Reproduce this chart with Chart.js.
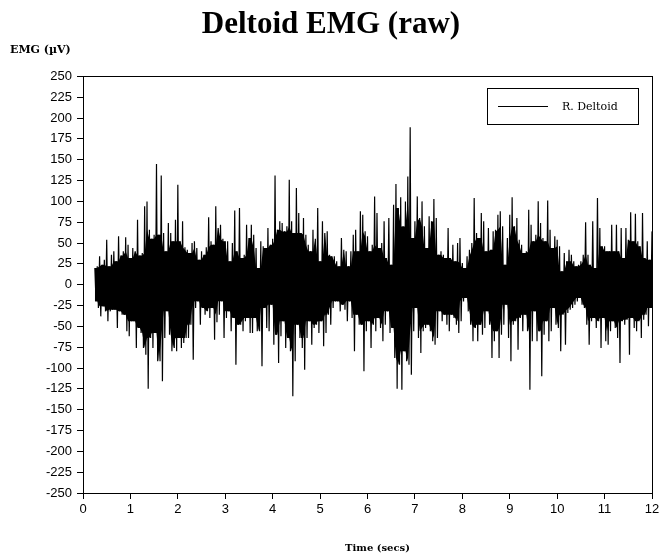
<!DOCTYPE html>
<html lang="en">
<head>
  <meta charset="UTF-8" />
  <title>Deltoid EMG (raw)</title>
  <script src="https://cdn.jsdelivr.net/npm/chart.js"></script>
  <style>
    body { margin: 0; background: #fff; }
    .chart-box { width: 671px; height: 554px; }
  </style>
</head>
<body>
  <div class="chart-box"><canvas id="emgChart"></canvas></div>

  <script>
    const START_TIME = 0.25;
    const SAMPLE_STEP = 0.05;
    const seriesLabel = 'R. Deltoid';
    const xAxisLabel = 'Time (secs)';

    const upperPeaks = [
      20, 22, 34, 24, 30, 54, 22, 36, 40, 28,
      58, 35, 40, 57, 48, 32, 44, 40, 78, 35,
      38, 94, 100, 66, 55, 60, 145, 60, 131, 62,
      40, 74, 62, 52, 78, 120, 52, 76, 45, 42,
      38, 50, 52, 44, 30, 40, 36, 45, 81, 52,
      48, 94, 68, 72, 55, 52, 52,
      28, 50, 89, 40, 92, 32, 36, 72, 56, 72,
      60, 44, 20, 52, 46, 44, 68, 48, 55, 131,
      66, 76, 74, 64, 70, 126, 76, 62, 116, 86,
      62, 80, 60, 48, 40, 66, 55, 92, 28, 76,
      62, 64, 36, 34, 34, 28, 22, 56, 42, 40,
      22, 40, 60, 66, 40, 88, 84, 64, 58,
      40, 48, 106, 86, 44, 50, 76, 32, 80, 24,
      96, 121, 92, 105, 70, 100, 130, 189, 56, 76,
      106, 80, 100, 70, 44, 82, 76, 103, 80, 36,
      40, 36, 32, 68, 32, 48, 28, 50, 56, 26,
      20, 34, 42, 50, 104, 62, 56, 86, 76, 40,
      68, 42, 64, 66, 84, 88, 70, 24, 56, 84,
      105, 70, 80, 54, 48, 38, 40, 90, 72, 52,
      60, 100, 74, 56, 52, 101, 66, 44, 58, 54,
      46, 16, 38, 28, 42, 36, 28, 22, 24, 28,
      36, 75, 36, 24, 76, 20, 104, 68, 46, 46,
      40, 40, 72, 40, 72, 40, 68, 32, 68, 54,
      87, 52, 85, 52, 46, 86, 32, 52, 30, 64
    ];

    const lowerPeaks = [
      -20, -28, -38, -26, -32, -44, -32, -30, -30, -52,
      -32, -36, -36, -56, -62, -44, -44, -76, -52, -58,
      -76, -84, -125, -64, -76, -58, -92, -92, -116, -64,
      -32, -60, -80, -76, -80, -64, -76, -70, -64, -64,
      -48, -90, -28, -20, -48, -28, -36, -32, -40, -28,
      -66, -45, -36, -20, -64, -40, -32,
      -56, -40, -96, -48, -48, -56, -44, -40, -58, -58,
      -40, -56, -56, -98, -28, -52, -56, -24, -72, -60,
      -94, -62, -44, -76, -64, -80, -134, -92, -48, -64,
      -76, -102, -64, -44, -72, -52, -48, -58, -44, -74,
      -58, -36, -48, -28, -20, -20, -32, -24, -30, -44,
      -20, -40, -80, -36, -48, -48, -104, -56, -44,
      -76, -48, -56, -40, -52, -68, -48, -32, -58, -52,
      -88, -125, -96, -126, -80, -92, -96, -108, -56, -28,
      -64, -82, -56, -52, -48, -56, -68, -72, -64, -32,
      -44, -36, -48, -56, -36, -40, -48, -58, -44, -20,
      -16, -32, -48, -68, -52, -68, -48, -60, -52, -32,
      -48, -88, -68, -56, -88, -60, -48, -24, -64, -92,
      -48, -44, -78, -40, -56, -36, -56, -126, -68, -32,
      -68, -56, -110, -60, -44, -68, -56, -28, -48, -52,
      -80, -36, -72, -34, -30, -28, -24, -20, -16, -24,
      -28, -48, -72, -44, -40, -52, -44, -76, -40, -68,
      -72, -56, -44, -52, -64, -94, -44, -48, -42, -84,
      -40, -52, -56, -44, -64, -42, -36, -50, -28, -40
    ];

    // each sample: positive swing then negative swing half a step later
    const trace = [];
    upperPeaks.forEach((hi, i) => {
      const t = START_TIME + i * SAMPLE_STEP;
      trace.push({ x: t, y: hi });
      if (lowerPeaks[i] !== undefined) {
        trace.push({ x: t + SAMPLE_STEP / 2, y: lowerPeaks[i] });
      }
    });

    // the solid body: lone spikes dropped, i.e. the smaller swing of each 3 neighbours
    function coreOf(arr, pick) {
      return arr.map((v, i) => ({
        x: START_TIME + i * SAMPLE_STEP,
        y: pick(arr[Math.max(i - 1, 0)], v, arr[Math.min(i + 1, arr.length - 1)])
      }));
    }
    const coreHi = coreOf(upperPeaks, Math.min);
    const coreLo = coreOf(lowerPeaks, Math.max);

    // box around the plot, the legend box in the corner and the x axis caption
    const framePlugin = {
      id: 'frame',
      afterDatasetsDraw(chart) {
        const { ctx, chartArea: a } = chart;
        ctx.save();
        ctx.strokeStyle = '#000';
        ctx.lineWidth = 1;
        ctx.strokeRect(Math.round(a.left) + 0.5, Math.round(a.top) + 0.5,
                       Math.round(a.right - a.left), Math.round(a.bottom - a.top));

        const bx = Math.round(a.right) - 165, by = Math.round(a.top) + 12;
        ctx.fillStyle = '#fff';
        ctx.fillRect(bx, by, 151, 36);
        ctx.strokeRect(bx + 0.5, by + 0.5, 151, 36);
        ctx.beginPath();
        ctx.moveTo(bx + 11, by + 18.5);
        ctx.lineTo(bx + 61, by + 18.5);
        ctx.stroke();
        ctx.fillStyle = '#000';
        ctx.font = '11px "DejaVu Serif"';
        ctx.textBaseline = 'middle';
        ctx.fillText(chart.data.datasets[0].label, bx + 75, by + 19);

        ctx.font = 'bold 10px "DejaVu Serif"';
        ctx.textAlign = 'center';
        ctx.fillText(xAxisLabel, (a.left + a.right) / 2 + 10, chart.height - 6);
        ctx.restore();
      }
    };

    const tickFont = { family: '"Liberation Sans"', size: 13 };

    new Chart(document.getElementById('emgChart'), {
      type: 'line',
      data: {
        datasets: [
          {
            label: seriesLabel,
            data: trace,
            borderColor: '#000',
            borderWidth: 1.2,
            pointRadius: 0,
            tension: 0,
            fill: false
          },
          {
            label: 'core top',
            data: coreHi,
            borderWidth: 0,
            pointRadius: 0,
            backgroundColor: '#000',
            fill: '+1'
          },
          {
            label: 'core bottom',
            data: coreLo,
            borderWidth: 0,
            pointRadius: 0,
            fill: false
          }
        ]
      },
      options: {
        responsive: true,
        maintainAspectRatio: false,
        animation: false,
        parsing: false,
        layout: { padding: { top: 6, left: 10, right: 19, bottom: 0 } },
        plugins: {
          legend: { display: false },
          tooltip: { enabled: false },
          title: {
            display: true,
            text: 'Deltoid EMG (raw)',
            color: '#000',
            font: { family: '"Liberation Serif"', size: 31, weight: 'bold' },
            padding: { top: 0, bottom: 0 }
          },
          subtitle: {
            display: true,
            text: 'EMG (\u00b5V)',
            align: 'start',
            color: '#000',
            font: { family: '"DejaVu Serif"', size: 11, weight: 'bold' },
            padding: { top: 0, bottom: 20 }
          }
        },
        scales: {
          x: {
            type: 'linear',
            min: 0,
            max: 12,
            border: { display: false },
            grid: { drawOnChartArea: false, drawTicks: true, tickLength: 6, color: '#000' },
            ticks: { stepSize: 1, color: '#000', font: tickFont, padding: 3, maxRotation: 0 },
            afterFit(scale) { scale.height = 61; }
          },
          y: {
            min: -250,
            max: 250,
            border: { display: false },
            grid: { drawOnChartArea: false, drawTicks: true, tickLength: 6, color: '#000' },
            ticks: { stepSize: 25, autoSkip: false, color: '#000', font: tickFont, padding: 5 },
            afterFit(scale) { scale.width = 73; }
          }
        }
      },
      plugins: [framePlugin]
    });
  </script>
</body>
</html>
